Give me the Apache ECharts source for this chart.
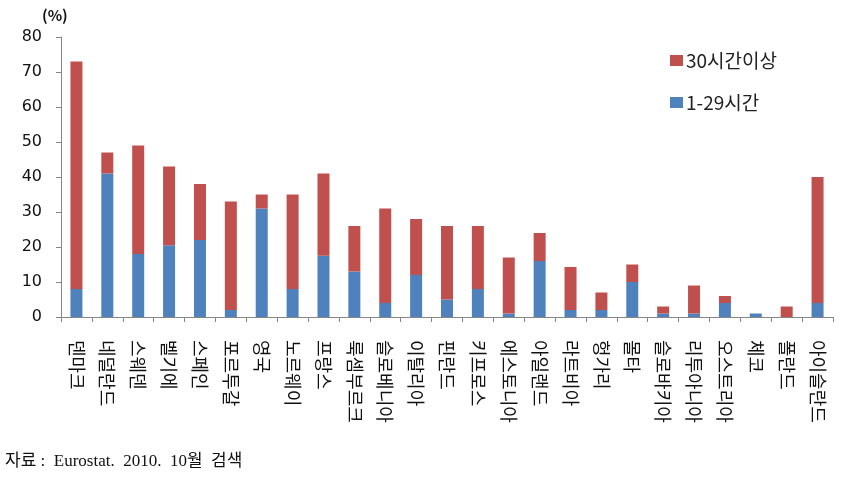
<!DOCTYPE html>
<html>
<head>
<meta charset="utf-8">
<script src="https://cdn.jsdelivr.net/npm/echarts@6/dist/echarts.min.js"></script>
<style>html,body{margin:0;padding:0;background:#fff;}#c{width:844px;height:493px;}</style>
</head>
<body>
<div id="c"></div>
<script>
const categories = ['덴마크','네덜란드','스웨덴','벨기에','스페인','포르투갈','영국','노르웨이','프랑스','룩셈부르크','슬로베니아','이탈리아','핀란드','키프로스','에스토니아','아일랜드','라트비아','헝가리','몰타','슬로바키아','리투아니아','오스트리아','체코','폴란드','아이슬란드'];
const part1to29 = [8,41,18,20.5,22,2,31,8,17.5,13,4,12,5,8,1,16,2,2,10,1,1,4,1,0,4];
const over30 = [65,6,31,22.5,16,31,4,27,23.5,13,27,16,21,18,16,8,12.3,5,5,2,8,2,0,3,36];
const yTicks = [0,10,20,30,40,50,60,70,80];
const seriesNames = ['30시간이상','1-29시간'];

const chart = echarts.init(document.getElementById('c'));
const kfont = '"Noto Sans CJK KR", sans-serif';
chart.setOption({
  animation: false,
  backgroundColor: '#fff',
  grid: {left: 61, right: 11, top: 37, bottom: 176, containLabel: false},
  legend: {
    orient: 'vertical', left: 665, top: 46, itemWidth: 13, itemHeight: 11, itemGap: 23,
    icon: 'rect',
    data: [seriesNames[0], seriesNames[1]],
    textStyle: {fontFamily: kfont, fontSize: 19, color: '#222', padding: [4, 0, 0, -2]}
  },
  xAxis: {
    type: 'category', data: categories,
    axisLine: {lineStyle: {color: '#868686'}},
    axisTick: {show: true, length: 5, lineStyle: {color: '#868686'}},
    axisLabel: {rotate: -90, interval: 0, margin: 23, fontFamily: kfont, fontSize: 18, color: '#111'}
  },
  yAxis: {
    type: 'value', min: yTicks[0], max: yTicks[yTicks.length-1], interval: 10,
    splitLine: {show: false},
    axisLine: {show: true, lineStyle: {color: '#868686'}},
    axisTick: {show: true, length: 5, lineStyle: {color: '#868686'}},
    axisLabel: {margin: 19, fontFamily: '"DejaVu Sans", sans-serif', fontSize: 16, color: '#111'}
  },
  series: [
    {name: seriesNames[1], type: 'bar', stack: 's', data: part1to29, barWidth: 12, itemStyle: {color: '#4F81BD'}},
    {name: seriesNames[0], type: 'bar', stack: 's', data: over30, barWidth: 12, itemStyle: {color: '#C0504D'}}
  ],
  graphic: [
    {type: 'text', left: 42, top: 8, style: {text: '(%)', font: 'bold 15px "Noto Sans CJK KR", sans-serif', fill: '#111'}},
    {type: 'text', left: 5, top: 453, style: {text: '자료 :  Eurostat.  2010.  10월  검색', font: '17px "Liberation Serif", "Noto Sans CJK KR", serif', fill: '#111'}}
  ]
});
</script>
</body>
</html>
